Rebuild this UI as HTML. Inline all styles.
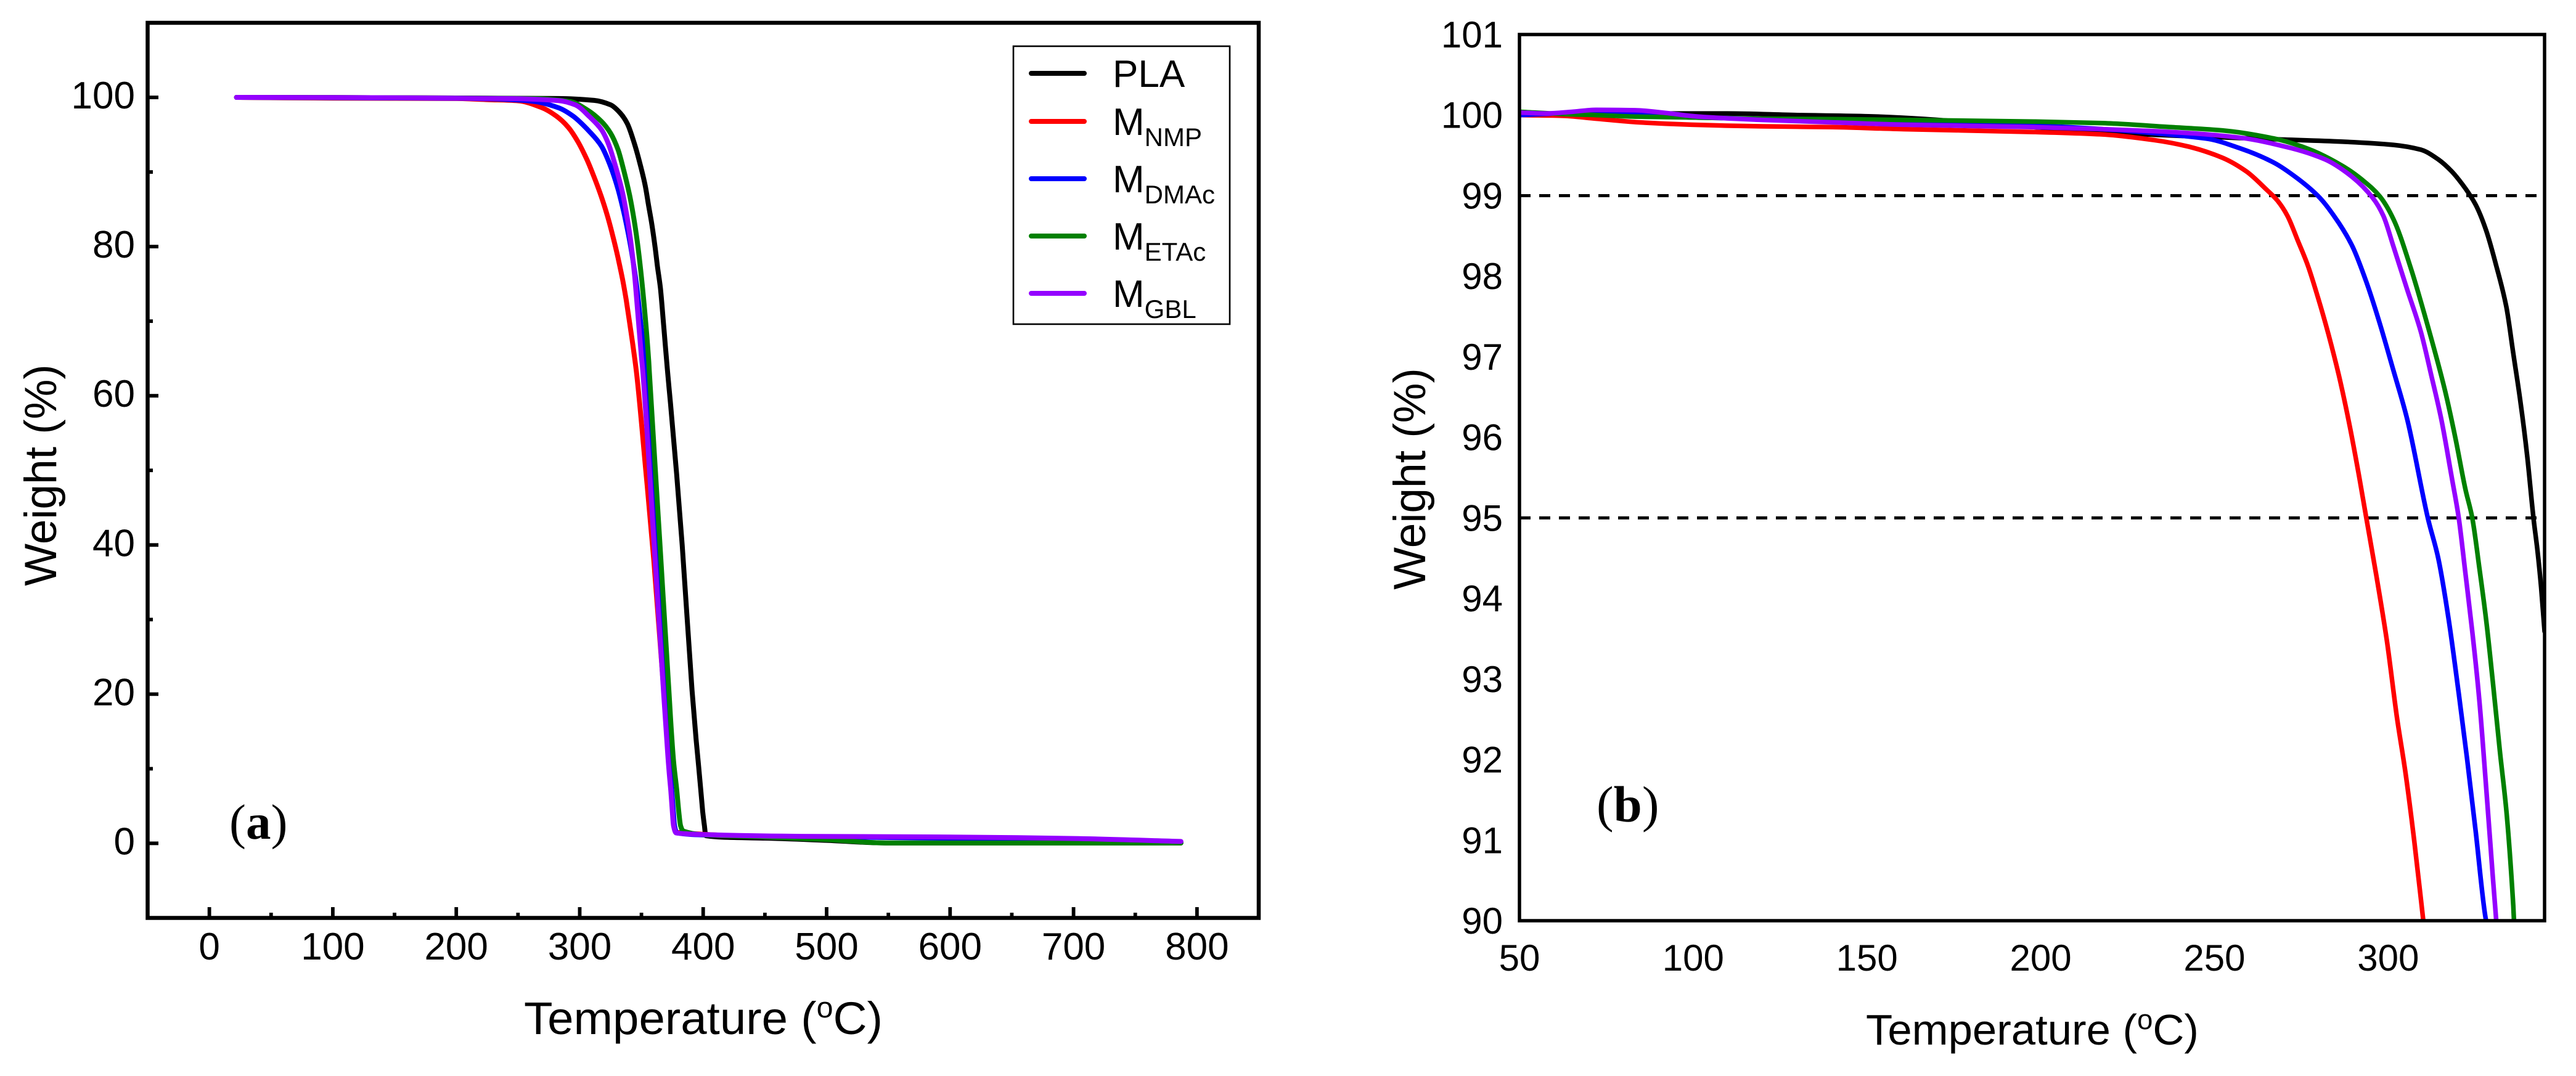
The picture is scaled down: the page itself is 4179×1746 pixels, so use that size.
<!DOCTYPE html>
<html>
<head>
<meta charset="utf-8">
<title>TGA curves</title>
<style>
html,body{margin:0;padding:0;background:#fff;}
svg{display:block;}
text{font-family:"Liberation Sans",Arial,sans-serif;fill:#000;}
.serif{font-family:"Liberation Serif","Times New Roman",serif;}
</style>
</head>
<body>
<svg id="figure" xmlns="http://www.w3.org/2000/svg" width="4179" height="1746" viewBox="0 0 4179 1746">
  <rect x="0" y="0" width="4179" height="1746" fill="#fff"/>
  <defs>
    <clipPath id="clipB"><rect x="2465" y="56" width="1663" height="1438"/></clipPath>
  </defs>
  <g id="panelA"></g>
  <g id="panelB"></g>

  <text x="850" y="1678" font-size="74" textLength="582" lengthAdjust="spacingAndGlyphs">Temperature (<tspan dy="-27" font-size="47">o</tspan><tspan dy="27">C)</tspan></text>
  <text transform="translate(91,771) rotate(-90)" text-anchor="middle" font-size="73">Weight (%)</text>
  <text class="serif" x="372" y="1361" font-size="81">(<tspan font-weight="bold">a</tspan>)</text>

  <text x="3027" y="1695" font-size="70" textLength="540" lengthAdjust="spacingAndGlyphs">Temperature (<tspan dy="-25" font-size="45">o</tspan><tspan dy="25">C)</tspan></text>
  <text transform="translate(2312,777) rotate(-90)" text-anchor="middle" font-size="73">Weight (%)</text>
  <text class="serif" x="2590" y="1333" font-size="83">(<tspan font-weight="bold">b</tspan>)</text>

  <g>
    <rect x="1644" y="75" width="351" height="451" fill="#fff" stroke="#000" stroke-width="2.6"/>
    <line x1="1673" y1="119" x2="1759" y2="119" stroke="#000" stroke-width="8" stroke-linecap="round"/>
    <line x1="1673" y1="197" x2="1759" y2="197" stroke="#f00" stroke-width="8" stroke-linecap="round"/>
    <line x1="1673" y1="290" x2="1759" y2="290" stroke="#00f" stroke-width="8" stroke-linecap="round"/>
    <line x1="1673" y1="383" x2="1759" y2="383" stroke="#008000" stroke-width="8" stroke-linecap="round"/>
    <line x1="1673" y1="476" x2="1759" y2="476" stroke="#9400ff" stroke-width="8" stroke-linecap="round"/>
    <text x="1805" y="141" font-size="62">PLA</text>
    <text x="1805" y="219" font-size="62">M<tspan dy="18" font-size="42">NMP</tspan></text>
    <text x="1805" y="312" font-size="62">M<tspan dy="18" font-size="42">DMAc</tspan></text>
    <text x="1805" y="405" font-size="62">M<tspan dy="18" font-size="42">ETAc</tspan></text>
    <text x="1805" y="498" font-size="62">M<tspan dy="18" font-size="42">GBL</tspan></text>
  </g>
</svg>

<script>
// ---------- Panel (a): full range ----------
const aXMajorTicks = [0,100,200,300,400,500,600,700,800];
const aXMinorTicks = [50,150,250,350,450,550,650,750];
const aYMajorTicks = [0,20,40,60,80,100];
const aYMinorTicks = [10,30,50,70,90];

const aPlaTemp   = [22,100,200,283,311.7,325,332.8,338.5,344.3,349,352.9,355.8,358.6,361,363,365.3,368.2,371,373.5,378.5,383,391,394.3,396.3,398,399.6,401,402.1,420,450,500,550,787];
const aPlaWeight = [100,99.98,99.92,99.85,99.6,99,97.9,96.5,93.8,91,88.3,85.5,82.8,80,77.3,74.5,69,63.5,59,49.5,40,20.5,13.9,10.4,7.3,4.3,2.35,1.03,0.8,0.7,0.4,0.05,0.05];

const aNmpTemp   = [22,100,200,225.7,250,269.7,281,290.7,298.4,306,311.7,317.5,322.3,327,331,334.7,337.6,340.4,343.3,346.2,353.5,360,368,371,372.5,374,375.2,376.2,378,396,429,480,600,700,787];
const aNmpWeight = [100,99.9,99.85,99.7,99.55,98.6,97.5,96,94.1,91.6,89.3,86.7,84.2,81.3,78.5,75.6,72.9,69.8,66.5,62.8,50,38,20.5,13.9,10.5,7,4.3,2.35,1.5,1.25,1,0.87,0.8,0.6,0.2];

const aDmacTemp   = [22,100,200,244.8,264,283,294.5,308,317.5,325,331,335.7,339.5,342.4,346.2,349,352,352.9,361,368.8,371.3,373,374.6,375.8,376.8,378.6,396,429,480,600,787];
const aDmacWeight = [100,99.95,99.88,99.7,99.43,98.6,97.5,95.4,93.5,90.75,87.7,84.6,81.6,78.9,74.6,70.4,65.5,63.5,42,20.5,13.9,10.5,7,4.3,2.35,1.4,1.15,1,0.9,0.7,0.1];

const aEtacTemp   = [22,100,200,264,292.6,306,317.5,325,331,335.7,340.4,344.3,347,350,352.9,355.8,356.3,365,372.4,374.7,376.3,378.5,380.2,381.7,383.8,400,450,500,550,787];
const aEtacWeight = [100,99.98,99.92,99.84,99.43,98.33,96.8,95.2,93,90.2,86.9,83.3,80.2,75.9,70.9,64.9,63.5,40,20,13.9,10.5,7.3,4.3,2.35,1.65,1.15,0.85,0.5,0.05,0.05];

const aGblTemp   = [22,100,200,244.8,283,296.4,308,317.5,323.2,329,334.7,338.5,341.4,344.3,347.1,350,351,360.3,368,370.5,372.2,373.8,375,376,378,396,429.4,479.5,600,700,787];
const aGblWeight = [100,99.98,99.9,99.84,99.57,99,97.4,95.7,93.8,90.75,87.2,83.8,80.6,76.4,71,65.2,63.5,40,20,13.9,10,7,4.3,2.35,1.4,1.2,1.05,0.94,0.85,0.65,0.25];

// ---------- Panel (b): 50-345 C zoom ----------
const bXTickLabels = [50,100,150,200,250,300];
const bYTickLabels = [90,91,92,93,94,95,96,97,98,99,100,101];
const bReferenceLevels = [99,95];

const bPlaTemp   = [50,89.4,109.8,130,150.5,198,225,267,286.8,301.5,309.4,314.4,318.3,322.2,325.2,328.1,331.1,334,336,338,340,341.8,343,344,345];
const bPlaWeight = [100,100.02,100.02,100,99.985,99.85,99.77,99.7,99.67,99.63,99.57,99.45,99.3,99.09,98.885,98.58,98.13,97.62,97.04,96.46,95.77,95,94.58,94.14,93.59];

const bNmpTemp   = [50.5,63,71,84.3,99.6,120,140,160.7,198,217.8,232.6,242.4,252.3,259.2,265.1,268.1,271,274,276.9,279.9,282.8,285.8,288.7,291.7,293.7,296.6,299.6,302.5,305,307.5,310.1];
const bNmpWeight = [100,99.99,99.96,99.91,99.88,99.86,99.85,99.825,99.79,99.76,99.69,99.61,99.47,99.3,99.07,98.94,98.75,98.44,98.13,97.72,97.28,96.77,96.19,95.5,95,94.28,93.48,92.53,91.83,90.99,90];

const bDmacTemp   = [50,70,100,150,198,247.4,257.2,267.1,274,280.4,285.8,289.7,293.7,297.6,301.5,305.5,311.4,314.4,317.3,320.3,322.7,325.2,328,328.2];
const bDmacWeight = [100,100.03,99.97,99.93,99.87,99.71,99.59,99.41,99.21,98.97,98.66,98.37,97.93,97.41,96.83,96.22,95,94.5,93.77,92.82,92.01,91.1,90.04,90];

const bEtacTemp   = [50.5,64,72,84,99.6,120,140,160.7,198,217.8,237.5,252.3,267,277,286.8,292.7,297.6,301.6,306.5,311.4,316.3,319.3,322.2,324.2,326.2,328.2,330.1,332.1,334.1,336,336.2];
const bEtacWeight = [100.04,100.01,100,99.98,99.97,99.955,99.95,99.94,99.92,99.9,99.85,99.81,99.71,99.58,99.37,99.19,98.99,98.7,98.1,97.38,96.59,96,95.36,95,94.39,93.73,92.97,92.12,91.32,90.18,90];

const bGblTemp   = [50.5,57.8,65,72,83.3,91.4,101.6,120,140,160.7,198,217.8,237.5,257.2,272,281.8,289.7,295.6,298.6,301.5,305.5,309.4,312.4,315.3,318.3,320.3,322.2,324.2,326.2,328.2,330.1,331.1];
const bGblWeight = [100.03,100.02,100.04,100.065,100.06,100.03,99.98,99.94,99.91,99.88,99.85,99.825,99.79,99.72,99.59,99.45,99.23,98.97,98.75,98.37,97.83,97.31,96.77,96.22,95.5,95,94.32,93.59,92.75,91.65,90.55,90];

// ---------- Axis functions ----------
function xA(t){ return 239.5 + (t + 50) * (2042 - 239.5) / 900; }
function yA(w){ return 1489.5 - (w + 10) * (1489.5 - 37) / 120; }
function xB(t){ return 2465 + (t - 50) * (4128 - 2465) / 295; }
function yB(w){ return 1494 - (w - 90) * (1494 - 56) / 11; }

const SVGNS = 'http://www.w3.org/2000/svg';

// Smooth curve through the read-off points (monotone cubic, no overshoot).
function smoothPath(px, py){
  const n = px.length;
  const d = [];
  for (let i = 0; i < n - 1; i++){ d.push((py[i+1] - py[i]) / (px[i+1] - px[i])); }
  const m = [d[0]];
  for (let i = 1; i < n - 1; i++){
    m.push(d[i-1] * d[i] <= 0 ? 0 : 2 * d[i-1] * d[i] / (d[i-1] + d[i]));
  }
  m.push(d[n-2]);
  let out = 'M' + px[0].toFixed(1) + ' ' + py[0].toFixed(1);
  for (let i = 0; i < n - 1; i++){
    const h = (px[i+1] - px[i]) / 3;
    out += ' C' + (px[i] + h).toFixed(1) + ' ' + (py[i] + m[i] * h).toFixed(1) +
           ' ' + (px[i+1] - h).toFixed(1) + ' ' + (py[i+1] - m[i+1] * h).toFixed(1) +
           ' ' + px[i+1].toFixed(1) + ' ' + py[i+1].toFixed(1);
  }
  return out;
}

function makeCurve(parent, temps, weights, xf, yf, color, width){
  const curve = document.createElementNS(SVGNS, 'path');
  curve.setAttribute('d', smoothPath(temps.map(xf), weights.map(yf)));
  curve.setAttribute('fill', 'none');
  curve.setAttribute('stroke', color);
  curve.setAttribute('stroke-width', width);
  curve.setAttribute('stroke-linejoin', 'round');
  curve.setAttribute('stroke-linecap', 'round');
  parent.appendChild(curve);
  return curve;
}

function makeRule(parent, x1, y1, x2, y2, width){
  const rule = document.createElementNS(SVGNS, 'line');
  rule.setAttribute('x1', x1);
  rule.setAttribute('y1', y1);
  rule.setAttribute('x2', x2);
  rule.setAttribute('y2', y2);
  rule.setAttribute('stroke', '#000');
  rule.setAttribute('stroke-width', width);
  parent.appendChild(rule);
  return rule;
}

function makeLabel(parent, x, y, size, anchor, content){
  const label = document.createElementNS(SVGNS, 'text');
  label.setAttribute('x', x);
  label.setAttribute('y', y);
  label.setAttribute('font-size', size);
  label.setAttribute('text-anchor', anchor);
  label.textContent = content;
  parent.appendChild(label);
  return label;
}

function makeFrame(parent, x, y, w, h, width){
  const frame = document.createElementNS(SVGNS, 'rect');
  frame.setAttribute('x', x);
  frame.setAttribute('y', y);
  frame.setAttribute('width', w);
  frame.setAttribute('height', h);
  frame.setAttribute('fill', 'none');
  frame.setAttribute('stroke', '#000');
  frame.setAttribute('stroke-width', width);
  parent.appendChild(frame);
  return frame;
}

// ---------- Draw panel (a) ----------
const panelA = document.getElementById('panelA');

const aCurveLayer = document.createElementNS(SVGNS, 'g');


panelA.appendChild(aCurveLayer);

const aPla = makeCurve(aCurveLayer, aPlaTemp, aPlaWeight, xA, yA, '#000', 8);


const aNmp = makeCurve(aCurveLayer, aNmpTemp, aNmpWeight, xA, yA, '#f00', 8);


const aDmac = makeCurve(aCurveLayer, aDmacTemp, aDmacWeight, xA, yA, '#00f', 8);


const aEtac = makeCurve(aCurveLayer, aEtacTemp, aEtacWeight, xA, yA, '#008000', 8);


const aGbl = makeCurve(aCurveLayer, aGblTemp, aGblWeight, xA, yA, '#9400ff', 8);



const aFrame = makeFrame(panelA, 239.5, 37, 1802.5, 1452.5, 6.5);



aXMajorTicks.forEach(function(v){
  const tick = makeRule(panelA, xA(v), 1489.5, xA(v), 1472, 5.8);
  
  
  const label = makeLabel(panelA, xA(v), 1557, 62, 'middle', String(v));
  
  
});
aXMinorTicks.forEach(function(v){
  const tick = makeRule(panelA, xA(v), 1489.5, xA(v), 1481, 5.8);
  
  
});
aYMajorTicks.forEach(function(v){
  const tick = makeRule(panelA, 239.5, yA(v), 257, yA(v), 5.8);
  
  
  const label = makeLabel(panelA, 219, yA(v) + 18, 62, 'end', String(v));
  
  
});
aYMinorTicks.forEach(function(v){
  const tick = makeRule(panelA, 239.5, yA(v), 248, yA(v), 5.8);
  
  
});

// ---------- Draw panel (b) ----------
const panelB = document.getElementById('panelB');

const bCurveLayer = document.createElementNS(SVGNS, 'g');


bCurveLayer.setAttribute('clip-path', 'url(#clipB)');
panelB.appendChild(bCurveLayer);

bReferenceLevels.forEach(function(v){
  const ref = makeRule(bCurveLayer, 2465, yB(v), 4128, yB(v), 5);
  ref.setAttribute('stroke-dasharray', '18 14');
  
  
});

const bPla = makeCurve(bCurveLayer, bPlaTemp, bPlaWeight, xB, yB, '#000', 7.5);


const bNmp = makeCurve(bCurveLayer, bNmpTemp, bNmpWeight, xB, yB, '#f00', 7.5);


const bDmac = makeCurve(bCurveLayer, bDmacTemp, bDmacWeight, xB, yB, '#00f', 7.5);


const bEtac = makeCurve(bCurveLayer, bEtacTemp, bEtacWeight, xB, yB, '#008000', 7.5);


const bGbl = makeCurve(bCurveLayer, bGblTemp, bGblWeight, xB, yB, '#9400ff', 7.5);



const bFrame = makeFrame(panelB, 2465, 56, 1663, 1438, 5.5);



bXTickLabels.forEach(function(v){
  const label = makeLabel(panelB, xB(v), 1575, 60, 'middle', String(v));
  
  
});
bYTickLabels.forEach(function(v){
  const label = makeLabel(panelB, 2438, yB(v) + 21, 60, 'end', String(v));
  
  
});
</script>
</body>
</html>
